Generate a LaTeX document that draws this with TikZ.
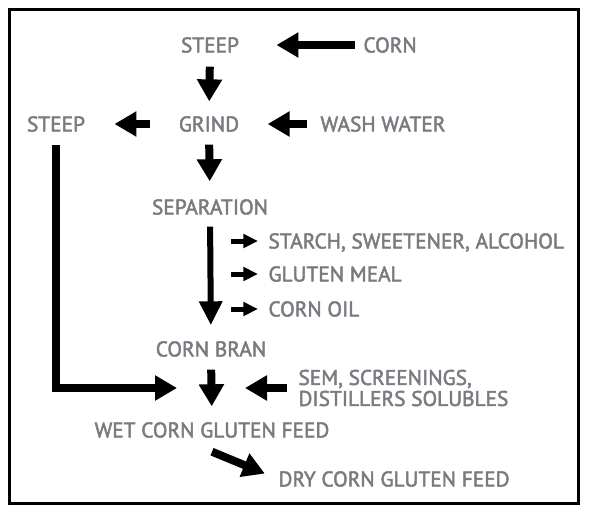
\documentclass[tikz,border=0pt]{standalone}
\usepackage{fontspec}
\newfontfamily\labelfont{PT Sans}[FakeBold=2.2]
\usetikzlibrary{arrows.meta}

\definecolor{labelgray}{RGB}{122,122,128}
\tikzset{every picture/.style={line width=0.75pt}}
\tikzset{
	lbltext/.style={text=labelgray, inner sep=0pt, font=\labelfont\fontsize{16}{15.75}\selectfont},
	lbl/.style={lbltext, text height=11.2pt, text depth=0pt},
	flow/.style={line width=6pt, -{Triangle[length=16.5pt,width=18pt]}},
	longflow/.style={line width=4.5pt, -{Triangle[length=18pt,width=16.5pt]}},
	sideflow/.style={line width=3.75pt, -{Triangle[length=11pt,width=10pt]}},
}

\begin{document}
\begin{tikzpicture}[x=0.75pt,y=0.75pt,yscale=-1,xscale=1]
	\useasboundingbox (0,0) rectangle (590,512);

	%Frame
	\draw [line width=2.25pt] (9,9) rectangle (578.5,503);

	% Text Nodes
	\node [lbl] (steepT) at (210,45) {STEEP};
	\node [lbl, anchor=west] (corn) at (363,45) {CORN};
	\node [lbl] (grind) at (209,124) {GRIND};
	\node [lbl] (steepL) at (56,124) {STEEP};
	\node [lbl, anchor=west] (wash) at (320,124) {WASH WATER};
	\node [lbl] (sep) at (210,207) {SEPARATION};
	\node [lbl, anchor=west] (starch) at (268,241) {STARCH, SWEETENER, ALCOHOL};
	\node [lbl, anchor=west] (gluten) at (268,274) {GLUTEN MEAL};
	\node [lbl, anchor=west] (oil) at (268,309) {CORN OIL};
	\node [lbl] (bran) at (211,349) {CORN BRAN};
	\node [lbltext, anchor=west, align=left] (sem) at (298,388) {SEM, SCREENINGS,\\DISTILLERS SOLUBLES};
	\node [lbl] (wet) at (212,430) {WET CORN GLUTEN FEED};
	\node [lbl, anchor=west] (dry) at (278,479) {DRY CORN GLUTEN FEED};
	\coordinate (join) at (210,388);

	%Arrows
	\draw [flow, shorten <=6pt, shorten >=27.75pt] (corn.west) -- (steepT.east);
	\draw [flow, shorten <=10.3pt, shorten >=11pt] (steepT.south) -- (grind.north);
	\draw [flow, shorten <=21pt, shorten >=21.75pt] (grind.west) -- (steepL.east);
	\draw [flow, shorten <=9.75pt, shorten >=21pt] (wash.west) -- (grind.east);
	\draw [flow, shorten <=9.5pt, shorten >=13.3pt] (grind.south) -- (sep.north);
	\draw [longflow, shorten <=8.8pt, shorten >=11.8pt] (sep.south) -- (bran.north);
	\foreach \out in {starch,gluten,oil}
		\draw [sideflow, shorten <=15.75pt, shorten >=7.5pt] (\out.west -| sep.south) -- (\out.west);
	\draw [flow, shorten <=9.5pt, shorten >=24.75pt] (steepL.south) |- (join);
	\draw [flow, shorten <=9.5pt, shorten >=11.8pt] (bran.south) -- (wet.north);
	\draw [flow, shorten <=8.25pt, shorten >=26.25pt] (sem.west) -- (join);
	\draw [flow, shorten >=10.7pt] ([yshift=10.3pt]wet.south) -- (dry.west);

\end{tikzpicture}
\end{document}
